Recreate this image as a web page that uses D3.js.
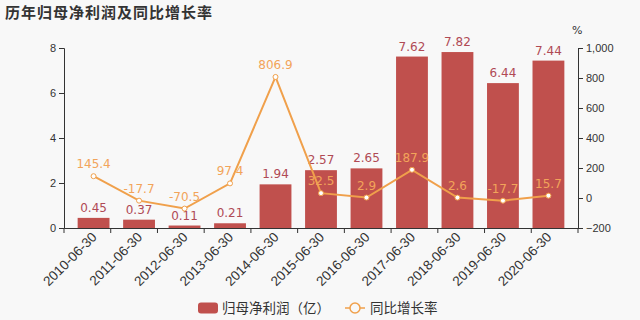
<!DOCTYPE html>
<head>
<meta charset="utf-8">
<title>历年归母净利润及同比增长率</title>
<style>
  body { margin: 0; background: #f8f8f8; }
  svg { font-family: "DejaVu Sans", "Noto Sans CJK SC", sans-serif; }
  .axis path, .axis line { stroke: #333; }
  .axis text { fill: #333; font-size: 11px; }
</style>
</head>
<body>
<svg width="640" height="320"></svg>
<script src="https://d3js.org/d3.v7.min.js"></script>
<script>

var dates = ["2010-06-30","2011-06-30","2012-06-30","2013-06-30","2014-06-30","2015-06-30",
             "2016-06-30","2017-06-30","2018-06-30","2019-06-30","2020-06-30"];
var profit = [0.45, 0.37, 0.11, 0.21, 1.94, 2.57, 2.65, 7.62, 7.82, 6.44, 7.44];
var growth = [145.4, -17.7, -70.5, 97.4, 806.9, 32.5, 2.9, 187.9, 2.6, -17.7, 15.7];
var leftTicks = [0, 2, 4, 6, 8];
var rightTicks = [-200, 0, 200, 400, 600, 800, 1000];

var svg = d3.select("svg"),
    margin = {top: 48, right: 62, bottom: 92, left: 64},
    width = 640 - margin.left - margin.right,
    height = 320 - margin.top - margin.bottom;

var barColor = "#c0504d",
    lineColor = "#f0a04b";

var x = d3.scaleBand().domain(dates).range([0, width]).padding(0.3),
    y = d3.scaleLinear().domain([0, 8]).range([height, 0]),
    y2 = d3.scaleLinear().domain([-200, 1000]).range([height, 0]);

svg.append("text")
    .attr("x", 5).attr("y", 18)
    .style("font-size", "15px").style("font-weight", "bold").style("fill", "#333")
    .style("letter-spacing", "1px")
    .text("历年归母净利润及同比增长率");

var g = svg.append("g")
    .attr("transform", "translate(" + margin.left + "," + margin.top + ")");

// bars
g.selectAll(".bar")
    .data(profit)
    .enter().append("rect")
    .attr("class", "bar")
    .attr("x", function(d, i) { return x(dates[i]); })
    .attr("y", function(d) { return y(d); })
    .attr("width", x.bandwidth())
    .attr("height", function(d) { return height - y(d); })
    .style("fill", barColor);

g.selectAll(".bar-label")
    .data(profit)
    .enter().append("text")
    .attr("x", function(d, i) { return x(dates[i]) + x.bandwidth() / 2; })
    .attr("y", function(d) { return y(d) - 6; })
    .style("text-anchor", "middle")
    .style("font-size", "12px")
    .style("fill", "#b04a55")
    .text(function(d) { return d.toFixed(2); });

// axes
var xAxis = g.append("g")
    .attr("class", "axis")
    .attr("transform", "translate(0," + height + ")")
    .call(d3.axisBottom(x).tickSize(0).tickPadding(0));

// ticks at band boundaries
xAxis.selectAll(".boundary")
    .data(d3.range(dates.length + 1))
    .enter().append("line")
    .attr("x1", function(i) { return i * width / dates.length; })
    .attr("x2", function(i) { return i * width / dates.length; })
    .attr("y1", 0).attr("y2", 5)
    .style("stroke", "#333");

xAxis.selectAll(".tick text")
    .style("text-anchor", "end")
    .style("font-size", "13.5px")
    .attr("x", 0).attr("y", 0).attr("dy", null)
    .attr("transform", "translate(4,10) rotate(-45)");

g.append("g")
    .attr("class", "axis")
    .call(d3.axisLeft(y).tickValues(leftTicks).tickSize(5));

g.append("g")
    .attr("class", "axis")
    .attr("transform", "translate(" + width + ",0)")
    .call(d3.axisRight(y2).tickValues(rightTicks).tickSize(5).tickFormat(d3.format(",")));

g.append("text")
    .attr("x", width - 6).attr("y", -14)
    .style("font-size", "11px").style("fill", "#333")
    .text("%");

// line
var line = d3.line()
    .x(function(d, i) { return x(dates[i]) + x.bandwidth() / 2; })
    .y(function(d) { return y2(d); });

g.append("path")
    .datum(growth)
    .attr("d", line)
    .style("fill", "none")
    .style("stroke", lineColor)
    .style("stroke-width", 2);

g.selectAll(".dot")
    .data(growth)
    .enter().append("circle")
    .attr("cx", function(d, i) { return x(dates[i]) + x.bandwidth() / 2; })
    .attr("cy", function(d) { return y2(d); })
    .attr("r", 2.5)
    .style("fill", "#fff")
    .style("stroke", lineColor)
    .style("stroke-width", 1);

g.selectAll(".line-label")
    .data(growth)
    .enter().append("text")
    .attr("x", function(d, i) { return x(dates[i]) + x.bandwidth() / 2; })
    .attr("y", function(d) { return y2(d) - 8; })
    .style("text-anchor", "middle")
    .style("font-size", "12px")
    .style("fill", "#f2a45a")
    .text(function(d) { return d; });

// legend
var legend = svg.append("g").attr("transform", "translate(0,308)");
legend.append("rect")
    .attr("x", 198).attr("y", -5.5).attr("width", 20).attr("height", 11).attr("rx", 3)
    .style("fill", barColor);
legend.append("text")
    .attr("x", 222).attr("y", 5)
    .style("font-size", "13.5px").style("fill", "#333")
    .text("归母净利润（亿）");
legend.append("line")
    .attr("x1", 345).attr("x2", 365).attr("y1", 0).attr("y2", 0)
    .style("stroke", lineColor).style("stroke-width", 1.5);
legend.append("circle")
    .attr("cx", 355).attr("cy", 0).attr("r", 5)
    .style("fill", "#f8f8f8").style("stroke", lineColor).style("stroke-width", 1.5);
legend.append("text")
    .attr("x", 370).attr("y", 5)
    .style("font-size", "13.5px").style("fill", "#333")
    .text("同比增长率");

</script>
</body>
